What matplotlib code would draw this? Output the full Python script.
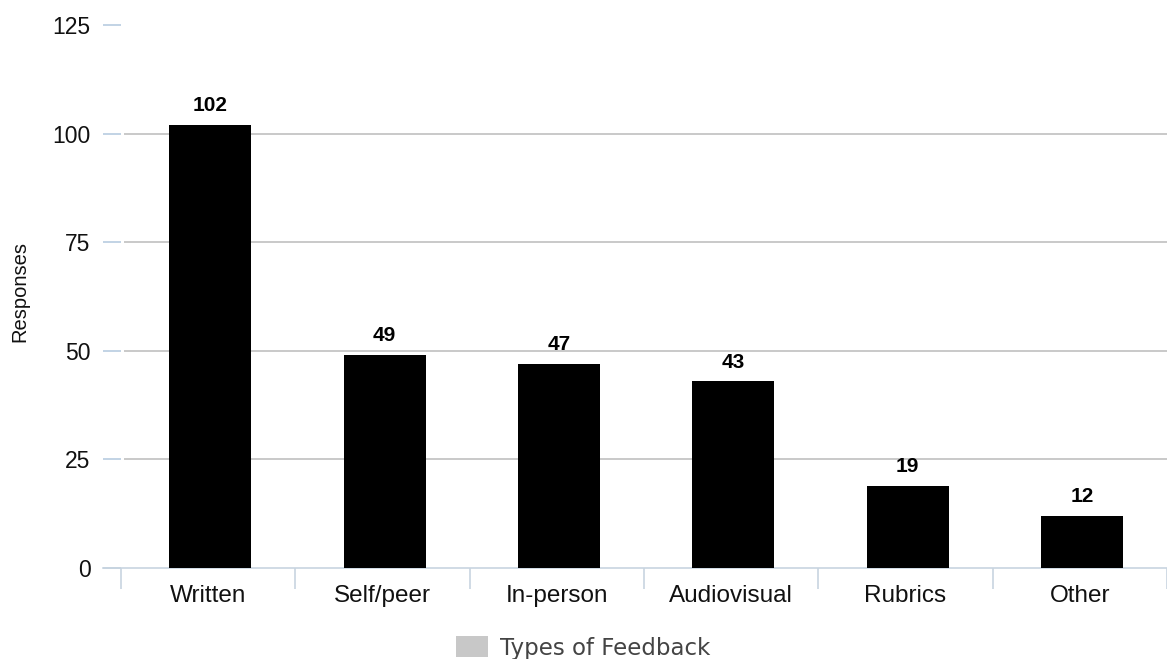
import matplotlib
matplotlib.use("Agg")
import matplotlib.pyplot as plt
from matplotlib.patches import Patch

categories = ["Written", "Self/peer", "In-person", "Audiovisual", "Rubrics", "Other"]
responses = [102, 49, 47, 43, 19, 12]
y_ticks = [0, 25, 50, 75, 100, 125]
series_name = "Types of Feedback"

plt.rcParams["font.family"] = ["Liberation Sans", "DejaVu Sans"]

fig = plt.figure(figsize=(11.67, 6.59), dpi=100)
ax = fig.add_axes([0.0883, 0.138, 0.9117, 0.824])

x = list(range(len(categories)))
ax.bar([xi + 0.012 for xi in x], responses, width=0.47, color="black", zorder=3)

for xi, v in zip(x, responses):
    ax.annotate(str(v), (xi + 0.012, v), xytext=(0, 7), textcoords="offset points",
                ha="center", va="bottom", fontsize=15, fontweight="bold",
                color="black")

ax.set_xlim(-0.603, 5.5)
ax.set_ylim(0, 125)

# horizontal grid lines (except the baseline)
for t in y_ticks[1:-1]:
    ax.hlines(t, -0.48, 5.5, color="#c0c0c0", linewidth=1.2, zorder=1)

# short tick marks next to the y labels
ax.set_yticks(y_ticks)
ax.tick_params(axis="y", length=0, pad=9, labelsize=16.5, labelcolor="#111111")
for t in y_ticks:
    ax.hlines(t, -0.603, -0.50, color="#b8cce0", linewidth=1.2, zorder=2,
              clip_on=False)

# category axis with boundary ticks
ax.set_xticks(x)
ax.set_xticklabels(categories)
ax.tick_params(axis="x", length=0, pad=12, labelsize=17.5, labelcolor="#111111")
ax.set_xticks([i - 0.5 for i in range(len(categories) + 1)], minor=True)
ax.tick_params(axis="x", which="minor", length=15, width=1.2, color="#c8d4e0",
               direction="out")

for side in ("top", "right", "left"):
    ax.spines[side].set_visible(False)
ax.spines["bottom"].set_color("#c8d4e0")
ax.spines["bottom"].set_linewidth(1.2)

fig.text(20 / 1167, 1 - 292 / 659, "Responses", rotation=90, ha="center",
         va="center", fontsize=14.5, color="#111111")

handle = Patch(facecolor="#c8c8c8", edgecolor="none")
fig.legend([handle], [series_name], loc="center",
           bbox_to_anchor=(583 / 1167, 1 - 648 / 659), frameon=False,
           prop={"family": "DejaVu Sans", "size": 16.5},
           labelcolor="#444444", handlelength=1.4, handleheight=1.0,
           handletextpad=0.5, borderpad=0)

fig.savefig("out.png", dpi=100)
